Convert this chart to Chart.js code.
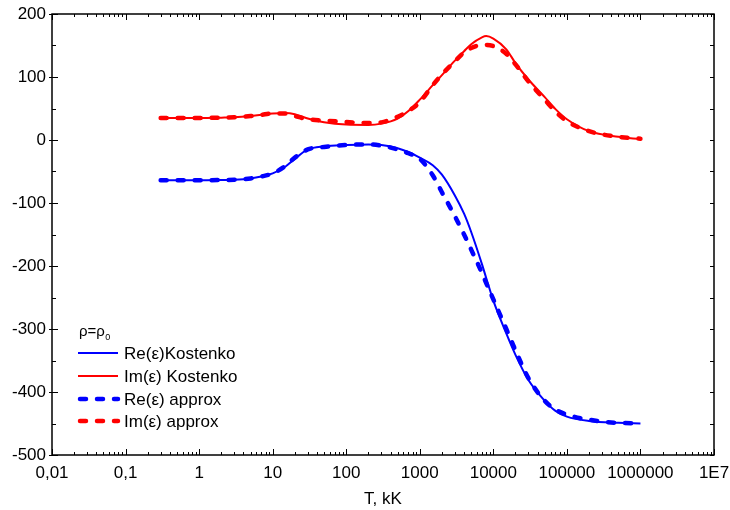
<!DOCTYPE html>
<html>
<head>
<meta charset="utf-8">
<script src="https://cdn.jsdelivr.net/npm/chart.js@4.4.1/dist/chart.umd.min.js"></script>
<style>
  html, body { margin: 0; padding: 0; background: #fff; }
  #wrap { width: 730px; height: 510px; }
</style>
</head>
<body>
<div id="wrap"><canvas id="epsChart" width="730" height="510"></canvas></div>
<script>
// temperature, kK
const T = [0.3, 0.5, 1, 2, 3, 5, 7, 10, 15, 20, 30, 50, 100, 200, 300, 500, 700,
  1000, 1500, 2000, 3000, 4000, 5000, 7000, 8000, 10000, 15000, 20000, 30000,
  50000, 70000, 100000, 200000, 500000, 1000000];

const reKostenko = [-64, -64, -64, -63.5, -63, -61, -58, -53, -42, -30, -15, -10, -8, -7, -8, -13, -19,
  -28, -40, -55, -88, -117, -146, -197, -219, -255, -307, -341, -381,
  -414, -430, -439, -446, -449, -450];
const imKostenko = [35, 35, 35, 35.5, 36, 38, 40, 42, 43, 41, 34, 28, 24.5, 24, 26, 34, 46,
  64, 87, 103, 126, 141, 152, 163, 165, 161, 144, 122, 96,
  68, 49, 33, 14, 5, 1.5];
const reApprox = [-64, -64, -64, -63.5, -63, -61, -58, -53, -41, -28, -15, -11, -8, -7, -9, -15, -21,
  -30, -56, -83, -121, -150, -174, -211, -227, -253, -300, -334, -378,
  -414, -428, -436, -444, -449, -449.5];
const imApprox = [35, 35, 35, 35.5, 36, 38, 40, 42, 42, 38, 33, 31, 28.5, 27, 28, 37, 46,
  60, 87, 104, 125, 139, 146, 151, 151, 149, 137, 120, 93,
  64, 45, 30, 14, 5, 2];

const xTickValues = [0.01, 0.1, 1, 10, 100, 1000, 10000, 100000, 1000000, 10000000];
const xTickLabels = ["0,01", "0,1", "1", "10", "100", "1000", "10000", "100000", "1000000", "1E7"];
const legendLabels = ["Re(\u03b5)Kostenko", "Im(\u03b5) Kostenko", "Re(\u03b5) approx", "Im(\u03b5) approx"];

const FONT = '"Liberation Sans", Arial, sans-serif';

function pts(vals) {
  return T.map((t, i) => ({ x: t, y: vals[i] }));
}

const solid = { borderWidth: 2, pointRadius: 0, fill: false, cubicInterpolationMode: "monotone" };
const dashed = { borderWidth: 4.5, pointRadius: 0, fill: false, cubicInterpolationMode: "monotone",
  borderDash: [6, 11], borderCapStyle: "round" };

// frame, inward ticks and the in-plot legend
const framePlugin = {
  id: "frame",
  afterDraw(chart) {
    const ctx = chart.ctx;
    const a = chart.chartArea;
    const xs = chart.scales.x;
    const ys = chart.scales.y;
    ctx.save();
    ctx.strokeStyle = "#000";
    ctx.lineWidth = 1.5;
    ctx.strokeRect(a.left, a.top, a.right - a.left, a.bottom - a.top);

    ctx.lineWidth = 1;
    ctx.beginPath();
    for (const d of xTickValues) {
      const px = Math.round(xs.getPixelForValue(d)) + 0.5;
      ctx.moveTo(px, a.bottom); ctx.lineTo(px, a.bottom - 6);
      ctx.moveTo(px, a.top); ctx.lineTo(px, a.top + 6);
      if (d >= 10000000) continue;
      for (let k = 2; k <= 9; k++) {
        const mx = Math.round(xs.getPixelForValue(d * k)) + 0.5;
        ctx.moveTo(mx, a.bottom); ctx.lineTo(mx, a.bottom - 3);
        ctx.moveTo(mx, a.top); ctx.lineTo(mx, a.top + 3);
      }
    }
    for (let v = -500; v <= 200; v += 50) {
      const py = Math.round(ys.getPixelForValue(v)) + 0.5;
      const major = v % 100 === 0;
      ctx.moveTo(a.left - (major ? 3 : 0), py); ctx.lineTo(a.left + (major ? 6 : 4), py);
      ctx.moveTo(a.right, py); ctx.lineTo(a.right - 4, py);
    }
    ctx.stroke();

    // legend
    const lx = 78, tx = 124;
    ctx.fillStyle = "#000";
    ctx.textBaseline = "alphabetic";
    ctx.font = "15px " + FONT;
    ctx.fillText("\u03c1=\u03c1", 79, 336);
    const w = ctx.measureText("\u03c1=\u03c1").width;
    ctx.font = "9px " + FONT;
    ctx.fillText("0", 79 + w + 0.5, 340);

    const rows = [353, 376, 399, 421];
    chart.data.datasets.forEach((ds, i) => {
      ctx.strokeStyle = ds.borderColor;
      ctx.lineWidth = ds.borderWidth;
      ctx.lineCap = ds.borderDash ? "round" : "butt";
      ctx.setLineDash(ds.borderDash || []);
      ctx.beginPath();
      ctx.moveTo(lx + (ds.borderDash ? 2 : 0), rows[i]);
      ctx.lineTo(lx + 40, rows[i]);
      ctx.stroke();
      ctx.setLineDash([]);
      ctx.font = "17px " + FONT;
      ctx.fillStyle = "#000";
      ctx.fillText(legendLabels[i], tx, rows[i] + 6);
    });
    ctx.restore();
  }
};

new Chart(document.getElementById("epsChart"), {
  type: "line",
  data: {
    datasets: [
      Object.assign({ label: legendLabels[0], data: pts(reKostenko), borderColor: "#0000ff" }, solid),
      Object.assign({ label: legendLabels[1], data: pts(imKostenko), borderColor: "#ff0000" }, solid),
      Object.assign({ label: legendLabels[2], data: pts(reApprox), borderColor: "#0000ff" }, dashed),
      Object.assign({ label: legendLabels[3], data: pts(imApprox), borderColor: "#ff0000" }, dashed)
    ]
  },
  options: {
    responsive: false,
    animation: false,
    layout: { padding: { top: 14, right: 16, left: 0, bottom: 0 } },
    plugins: { legend: { display: false }, tooltip: { enabled: false } },
    scales: {
      x: {
        type: "logarithmic",
        min: 0.01,
        max: 10000000,
        grid: { display: false, drawTicks: false },
        border: { display: false },
        afterBuildTicks(scale) {
          scale.ticks = xTickValues.map((v) => ({ value: v }));
        },
        afterFit(scale) {
          scale.height = 55;
          scale.paddingLeft = 0;
          scale.paddingRight = 0;
        },
        ticks: {
          autoSkip: false,
          maxRotation: 0,
          padding: 8,
          color: "#000",
          font: { family: FONT, size: 17 },
          callback(value) {
            const i = xTickValues.indexOf(value);
            return i >= 0 ? xTickLabels[i] : "";
          }
        },
        title: {
          display: true,
          text: "T, kK",
          color: "#000",
          font: { family: FONT, size: 17 },
          padding: { top: 6, bottom: 0 }
        }
      },
      y: {
        min: -500,
        max: 200,
        grid: { display: false, drawTicks: false },
        border: { display: false },
        afterFit(scale) {
          scale.width = 52;
          scale.paddingTop = 0;
          scale.paddingBottom = 0;
        },
        ticks: {
          stepSize: 100,
          padding: 6,
          color: "#000",
          font: { family: FONT, size: 17 }
        }
      }
    }
  },
  plugins: [framePlugin]
});
</script>
</body>
</html>
